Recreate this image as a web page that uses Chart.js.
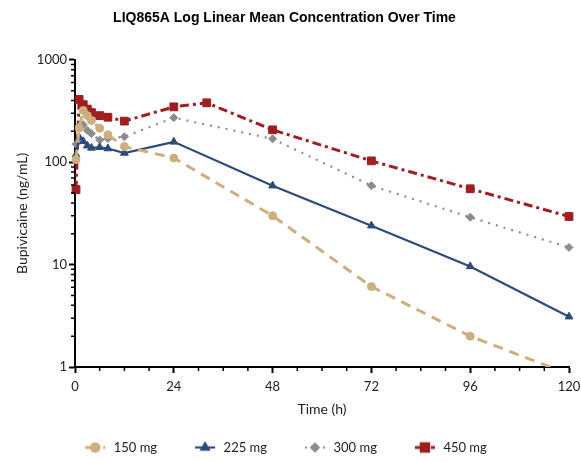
<!DOCTYPE html>
<html>
<head>
<meta charset="utf-8">
<script src="https://cdn.jsdelivr.net/npm/chart.js@4.4.1/dist/chart.umd.min.js"></script>
<style>
  html, body { margin: 0; padding: 0; background: #fff; }
  canvas { display: block; }
</style>
</head>
<body>
<canvas id="c" width="581" height="462"></canvas>
<script>
// ---- data ----
const times = [0.25, 1, 2, 3, 4, 6, 8, 12, 24, 32, 48, 72, 96, 120];
const dose150 = [106, 215, 320, 285, 255, 215, 185, 142, 110, null, 30, 6.1, 2.0, 0.85];
const dose225 = [118, 175, 160, 145, 138, 140, 136, 123, 158, null, 59, 24, 9.6, 3.1];
const dose300 = [150, 225, 232, 205, 190, 165, 170, 177, 272, null, 169, 59, 29, 14.7];
const dose450 = [54, 410, 365, 330, 305, 285, 275, 252, 347, 380, 207, 103, 55, 29.5];
const seriesLabels = ['150 mg', '225 mg', '300 mg', '450 mg'];
const xTickValues = [0, 24, 48, 72, 96, 120];
const yTickValues = [1, 10, 100, 1000];

// ---- styles ----
const colors = ['#CDAF7E', '#2C4A7B', '#8C8C8C', '#A01E22'];
const dashes = [[10, 7], [], [2, 6], [9, 4, 3, 4]];
const widths = [3, 2.2, 2.2, 3];
const pStyles = ['circle', 'triangle', 'rectRot', 'rect'];
const pRadius = [4, 4.5, 4, 5.5];

function pts(vals) {
  return times.map((t, i) => ({ x: t, y: vals[i] })).filter(p => p.y !== null);
}

function makeIcon(i) {
  const W = 39, H = 14;
  const cv = document.createElement('canvas');
  cv.width = W; cv.height = H;
  const g = cv.getContext('2d');
  const x0 = W - 22, x1 = W - 2, cy = H / 2;
  g.strokeStyle = colors[i];
  g.fillStyle = colors[i];
  g.lineWidth = widths[i];
  g.setLineDash(i === 2 ? [2, 4] : (i === 0 ? [6, 3] : (i === 3 ? [6, 2] : [])));
  g.beginPath(); g.moveTo(x0, cy); g.lineTo(x1, cy); g.stroke();
  g.setLineDash([]);
  Chart.helpers.drawPoint(g, { pointStyle: pStyles[i], radius: pRadius[i] * 0.95, rotation: 0, borderWidth: 1 }, (x0 + x1) / 2, cy);
  g.fill();
  return cv;
}

const allSeries = [dose150, dose225, dose300, dose450];

const minorTicks = {
  id: 'minorTicks',
  afterDraw(chart) {
    const { ctx, chartArea } = chart;
    const xs = chart.scales.x, ys = chart.scales.y;
    ctx.save();
    ctx.strokeStyle = '#000';
    ctx.lineWidth = 1.5;
    ctx.beginPath();
    for (let t = 6; t < 120; t += 6) {
      if (t % 24 === 0) continue;
      const px = xs.getPixelForValue(t);
      ctx.moveTo(px, chartArea.bottom);
      ctx.lineTo(px, chartArea.bottom + 4);
    }
    [1, 10, 100].forEach(d => {
      for (let k = 2; k <= 9; k++) {
        const py = ys.getPixelForValue(d * k);
        ctx.moveTo(chartArea.left, py);
        ctx.lineTo(chartArea.left - 4, py);
      }
    });
    ctx.stroke();
    ctx.restore();
  }
};

const legendFix = {
  id: 'legendFix',
  beforeLayout(chart) {
    const lg = chart.legend;
    if (lg && !lg._fixed) {
      const f = lg.fit.bind(lg);
      lg.fit = function () { f(); this.height = 42; };
      lg._fixed = true;
    }
  },
  afterLayout(chart) {
    const lg = chart.legend;
    if (lg) { lg.left -= 7; lg.right -= 7; }
  }
};

Chart.defaults.font.family = 'Lato';
Chart.defaults.color = '#222';

const icons = [0, 1, 2, 3].map(makeIcon);

new Chart(document.getElementById('c'), {
  type: 'line',
  data: {
    datasets: allSeries.map((vals, i) => ({
      label: seriesLabels[i],
      data: pts(vals),
      borderColor: colors[i],
      backgroundColor: colors[i],
      borderWidth: widths[i],
      borderDash: dashes[i],
      pointStyle: pStyles[i],
      pointRadius: pRadius[i],
      pointBorderWidth: 1,
      pointBorderColor: colors[i],
      pointBackgroundColor: colors[i],
      tension: 0,
      fill: false,
      clip: { left: false, top: false, right: false, bottom: 0 }
    }))
  },
  options: {
    responsive: false,
    animation: false,
    devicePixelRatio: 1,
    layout: { padding: { left: 0, right: 12, top: 0, bottom: 0 } },
    plugins: {
      title: {
        display: true,
        text: 'LIQ865A Log Linear Mean Concentration Over Time',
        color: '#000',
        font: { family: 'Liberation Sans', size: 14, weight: 'bold' },
        padding: { top: 10, bottom: 33 }
      },
      legend: {
        position: 'bottom',
        labels: {
          usePointStyle: true,
          pointStyleWidth: 39,
          padding: 21,
          color: '#222',
          font: { size: 13 },
          generateLabels(chart) {
            return Chart.defaults.plugins.legend.labels.generateLabels(chart)
              .map((l, i) => Object.assign(l, { pointStyle: icons[i] }));
          }
        }
      },
      tooltip: { enabled: false }
    },
    scales: {
      x: {
        type: 'linear',
        min: 0, max: 120,
        afterBuildTicks(s) { s.ticks = xTickValues.map(v => ({ value: v })); },
        afterFit(s) { s.height = 53; s.paddingRight = 0; s.paddingLeft = 0; },
        ticks: { font: { size: 13 }, color: '#222', padding: 6, maxRotation: 0, autoSkip: false,
                 callback: v => String(v) },
        grid: { drawOnChartArea: false, drawTicks: true, tickLength: 6, tickWidth: 2, tickColor: '#000' },
        border: { color: '#000', width: 2 },
        title: { display: true, text: 'Time (h)', font: { size: 14 }, color: '#222', padding: { top: 0, bottom: 2 } }
      },
      y: {
        type: 'logarithmic',
        min: 1, max: 1000,
        afterBuildTicks(s) { s.ticks = yTickValues.map(v => ({ value: v, major: true })); },
        afterFit(s) { s.width = 75; },
        ticks: { font: { size: 13 }, color: '#222', padding: 2, autoSkip: false,
                 callback: v => String(v) },
        grid: { drawOnChartArea: false, drawTicks: true, tickLength: 6, tickWidth: 2, tickColor: '#000' },
        border: { color: '#000', width: 2 },
        title: { display: true, text: 'Bupivicaine (ng/mL)', font: { size: 14 }, color: '#222', padding: { top: 14, bottom: 0 } }
      }
    }
  },
  plugins: [minorTicks, legendFix]
});
</script>
</body>
</html>
